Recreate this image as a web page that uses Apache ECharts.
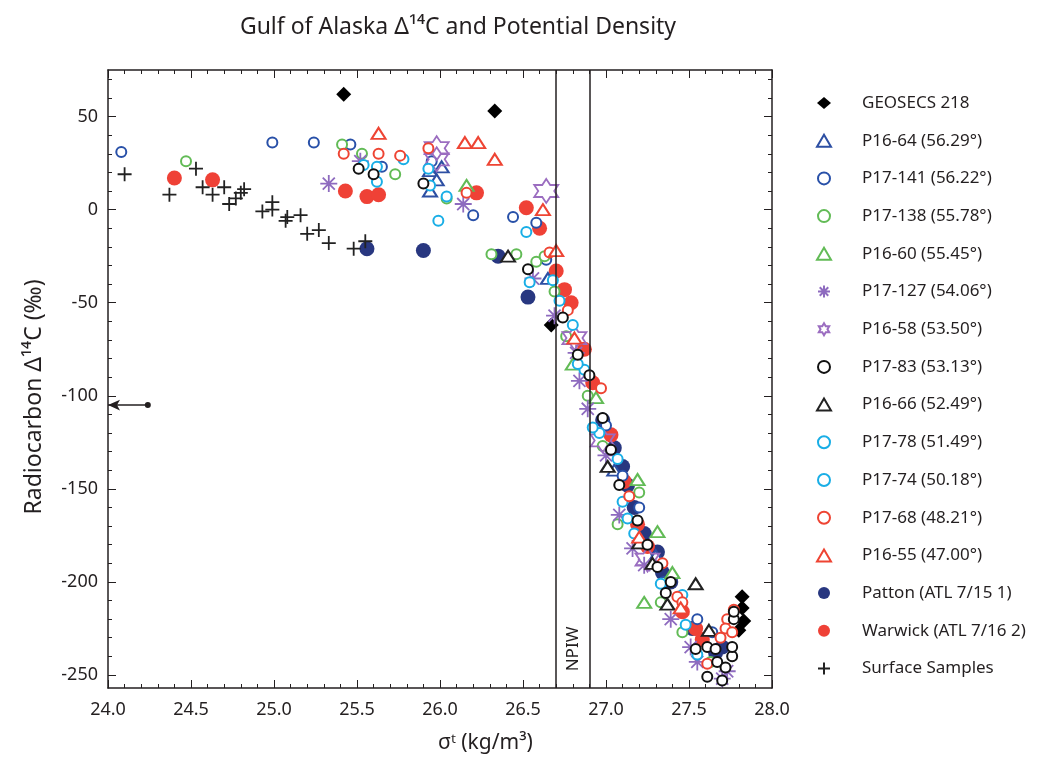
<!DOCTYPE html>
<html>
<head>
<meta charset="utf-8">
<title>Gulf of Alaska Δ14C and Potential Density</title>
<script src="https://cdn.jsdelivr.net/npm/echarts@6.0.0/dist/echarts.min.js"></script>
<style>
  html, body { margin: 0; padding: 0; background: #fff; }
  #chart { width: 1061px; height: 759px; }
</style>
</head>
<body>
<div id="chart"></div>
<script>
// data: [sigma-t, delta14C]
const geosecs = [[25.42,62],[26.33,53],[26.67,-62],[27.82,-208],[27.82,-214],[27.83,-221],[27.80,-226]];
const p1664 = [[25.94,21],[25.98,16],[25.94,10],[26.01,23],[26.65,-37],[27.05,-140],[27.30,-186]];
const p17141 = [[24.08,31],[24.99,36],[25.24,36],[25.46,35],[25.65,23],[25.95,26],[26.20,-3],[26.44,-4],[26.58,-7],[26.64,-27],
  [27.00,-116],[27.10,-143],[27.20,-160],[27.35,-200],[27.55,-220],[27.64,-227]];
const p17138 = [[24.47,26],[25.41,35],[25.53,30],[25.73,19],[26.04,6],[26.31,-24],[26.46,-24],[26.58,-28],[26.63,-25],[26.69,-44],
  [26.76,-68],[26.89,-100],[26.98,-127],[27.07,-169],[27.20,-152],[27.33,-211],[27.46,-227],[27.63,-243]];
const p1660 = [[26.16,13],[26.80,-83],[26.94,-101],[27.19,-145],[27.31,-173],[27.40,-195],[27.23,-211]];
const p17127 = [[25.33,14],[25.52,26],[26.14,3],[26.56,-37],[26.69,-57],[26.82,-77],[26.84,-92],[26.89,-107],[27.00,-132],
  [27.08,-164],[27.16,-182],[27.23,-191],[27.39,-220],[27.51,-235],[27.55,-243],[27.70,-252],[27.73,-248]];
const p1658 = [[25.98,33],[25.98,27],[26.64,10],[26.81,-69],[26.98,-124],[27.25,-188]];
const p1783 = [[25.51,22],[25.60,19],[25.90,14],[26.53,-32],[26.74,-58],[26.83,-78],[26.90,-89],[26.98,-112],[27.03,-129],
  [27.08,-148],[27.19,-167],[27.25,-180],[27.31,-192],[27.39,-200],[27.36,-206],[27.54,-236],[27.61,-235],[27.66,-236],
  [27.67,-243],[27.72,-246],[27.61,-251],[27.70,-253],[27.76,-240],[27.76,-235],[27.77,-220],[27.77,-216]];
const p1666 = [[26.41,-25],[27.01,-138],[27.20,-179],[27.28,-190],[27.37,-212],[27.54,-201],[27.62,-226]];
const p1778 = [[25.54,24],[25.62,15],[25.93,22],[26.04,7],[26.52,-12],[26.68,-38],[26.80,-62],[26.87,-86],[26.96,-120],
  [27.10,-157],[27.17,-174],[27.46,-207],[27.55,-239]];
const p1774 = [[25.62,23],[25.78,27],[25.94,13],[25.99,-6],[26.54,-39],[26.72,-49],[26.83,-83],[26.92,-117],[27.07,-134],
  [27.13,-166],[27.33,-201],[27.48,-223]];
const p1768 = [[25.42,30],[25.63,30],[25.76,29],[25.93,33],[26.16,9],[26.66,-23],[26.77,-54],[26.97,-96],[27.14,-154],
  [27.34,-190],[27.43,-208],[27.46,-211],[27.73,-220],[27.72,-225],[27.69,-230],[27.76,-227],[27.61,-244],[27.77,-215]];
const p1655 = [[25.63,41],[26.15,36],[26.23,36],[26.33,27],[26.62,0],[26.70,-22],[26.81,-69],[27.20,-176],[27.45,-214]];
const patton = [[25.56,-21],[25.90,-22],[26.35,-25],[26.53,-47],[26.98,-113],[27.05,-128],[27.10,-138],[27.13,-148],
  [27.17,-160],[27.23,-174],[27.31,-184],[27.34,-195],[27.39,-200],[27.52,-225],[27.70,-235],[27.66,-238]];
const warwick = [[24.40,17],[24.63,16],[25.43,10],[25.56,7],[25.63,8],[26.22,9],[26.52,1],[26.60,-10],[26.70,-33],
  [26.75,-43],[26.79,-50],[26.87,-75],[26.92,-93],[27.03,-121],[27.11,-146],[27.19,-169],[27.25,-181],[27.46,-216],
  [27.54,-225],[27.58,-231]];
const surface = [[24.10,19],[24.37,8],[24.53,22],[24.57,12],[24.63,8],[24.70,12],[24.73,3],[24.77,6],[24.80,9],[24.82,11],
  [24.93,-1],[24.99,4],[24.99,0],[25.07,-6],[25.08,-4],[25.16,-3],[25.20,-13],[25.27,-11],[25.33,-18],[25.48,-21],[25.55,-17]];
const offscale = [[24.24,-105]];
const npiw = [26.7, 26.9];

const legendNames = ['GEOSECS 218','P16-64 (56.29°)','P17-141 (56.22°)','P17-138 (55.78°)','P16-60 (55.45°)',
  'P17-127 (54.06°)','P16-58 (53.50°)','P17-83 (53.13°)','P16-66 (52.49°)','P17-78 (51.49°)','P17-74 (50.18°)',
  'P17-68 (48.21°)','P16-55 (47.00°)','Patton (ATL 7/15 1)','Warwick (ATL 7/16 2)','Surface Samples'];

const yMajor = [-250, -200, -150, -100, -50, 0, 50];
const yMinor = [];
for (let v = -250; v <= 70; v += 10) yMinor.push(v);

const FONT = '"Noto Sans", "DejaVu Sans", sans-serif';
const INK = '#231f20';

const ASTERISK = 'path://M10,0L10,20M0,10L20,10M2.9,2.9L17.1,17.1M2.9,17.1L17.1,2.9';
const HEXAGRAM = 'path://M10,0L12.89,5L18.66,5L15.77,10L18.66,15L12.89,15L10,20L7.11,15L1.34,15L4.23,10L1.34,5L7.11,5Z';
const PLUS = 'path://M6,0L6,12M0,6L12,6';

function filled(name, data, symbol, size, color) {
  return { name: name, type: 'scatter', data: data, symbol: symbol, symbolSize: size,
    itemStyle: { color: color, opacity: 1 }, emphasis: { disabled: true } };
}
function hollow(name, data, symbol, size, color, lw) {
  return { name: name, type: 'scatter', data: data, symbol: symbol, symbolSize: size,
    itemStyle: { color: color, borderColor: color, borderWidth: lw || 1.8, opacity: 1 }, emphasis: { disabled: true } };
}
function stroked(name, data, symbol, size, color, lw) {
  return { name: name, type: 'scatter', data: data, symbol: symbol, symbolSize: size,
    itemStyle: { color: 'rgba(0,0,0,0)', borderColor: color, borderWidth: lw || 1.6, opacity: 1 }, emphasis: { disabled: true } };
}

const chart = echarts.init(document.getElementById('chart'));

const yCommon = { type: 'value', min: -257, max: 75, splitLine: { show: false } };
const xCommon = { type: 'value', min: 24, max: 28, interval: 0.5, splitLine: { show: false } };
const frame = { onZero: false, lineStyle: { color: INK, width: 1.5 } };

chart.setOption({
  animation: false,
  backgroundColor: '#fff',
  title: {
    text: 'Gulf of Alaska Δ¹⁴C and Potential Density',
    left: 453, top: 11, textAlign: 'center',
    textStyle: { fontFamily: FONT, fontSize: 23, fontWeight: 'normal', color: INK }
  },
  grid: { left: 108, right: 289, top: 70, bottom: 71, outerBoundsMode: 'none' },
  legend: {
    orient: 'vertical', left: 811, top: 89,
    itemWidth: 14, itemHeight: 12, itemGap: 19.7,
    selectedMode: false,
    data: legendNames,
    formatter: name => '{g| }' + name,
    textStyle: { fontFamily: FONT, fontSize: 17, color: INK, lineHeight: 18,
      rich: { g: { width: 26, lineHeight: 18 } } }
  },
  xAxis: [
    Object.assign({}, xCommon, {
      position: 'bottom',
      axisLine: frame,
      axisTick: { inside: true, length: 8, lineStyle: { color: INK } },
      minorTick: { show: true, splitNumber: 5, length: 4, lineStyle: { color: INK } },
      axisLabel: { fontFamily: FONT, fontSize: 18, color: INK, margin: 13, formatter: v => v.toFixed(1) }
    }),
    Object.assign({}, xCommon, {
      position: 'top',
      axisLine: frame,
      axisTick: { inside: true, length: 8, lineStyle: { color: INK } },
      minorTick: { show: true, splitNumber: 5, length: 4, lineStyle: { color: INK } },
      axisLabel: { show: false }
    })
  ],
  yAxis: [
    Object.assign({}, yCommon, {
      position: 'left',
      name: 'Radiocarbon Δ¹⁴C (‰)', nameLocation: 'middle', nameRotate: 90, nameGap: 62,
      nameTextStyle: { fontFamily: FONT, fontSize: 23, color: INK, padding: [0, 36, 0, 0] },
      axisLine: Object.assign({ show: true }, frame),
      axisTick: { inside: true, length: 8, customValues: yMajor, lineStyle: { color: INK } },
      axisLabel: { fontFamily: FONT, fontSize: 18, color: INK, margin: 10, customValues: yMajor }
    }),
    Object.assign({}, yCommon, {
      position: 'left',
      axisLine: { show: false, onZero: false },
      axisTick: { inside: true, length: 4, customValues: yMinor, lineStyle: { color: INK } },
      axisLabel: { show: false }
    }),
    Object.assign({}, yCommon, {
      position: 'right',
      axisLine: Object.assign({ show: true }, frame),
      axisTick: { inside: true, length: 8, customValues: yMajor, lineStyle: { color: INK } },
      axisLabel: { show: false }
    }),
    Object.assign({}, yCommon, {
      position: 'right',
      axisLine: { show: false, onZero: false },
      axisTick: { inside: true, length: 4, customValues: yMinor, lineStyle: { color: INK } },
      axisLabel: { show: false }
    })
  ],
  graphic: [{
    type: 'text', left: 438, top: 733,
    style: { text: 'σᵗ (kg/m³)', font: '21px ' + FONT, fill: INK }
  }],
  series: [
    filled('Patton (ATL 7/15 1)', patton, 'circle', 15, '#283780'),
    filled('Warwick (ATL 7/16 2)', warwick, 'circle', 15, '#ef4136'),
    filled('GEOSECS 218', geosecs, 'diamond', 15, '#000000'),
    hollow('P16-64 (56.29°)', p1664, 'emptyTriangle', [14, 11], '#2d4fa3'),
    hollow('P17-141 (56.22°)', p17141, 'emptyCircle', 10, '#2850a8'),
    hollow('P17-138 (55.78°)', p17138, 'emptyCircle', 10, '#62bb56'),
    hollow('P16-60 (55.45°)', p1660, 'emptyTriangle', [14, 11], '#62bb56'),
    stroked('P17-127 (54.06°)', p17127, ASTERISK, 17, '#8e6bbf', 1.8),
    stroked('P16-58 (53.50°)', p1658, HEXAGRAM, 24, '#9b6dc0', 1.8),
    hollow('P16-66 (52.49°)', p1666, 'emptyTriangle', [14, 11], '#222222'),
    hollow('P17-78 (51.49°)', p1778, 'emptyCircle', 10, '#19aee6'),
    hollow('P17-74 (50.18°)', p1774, 'emptyCircle', 10, '#19aee6'),
    hollow('P17-68 (48.21°)', p1768, 'emptyCircle', 10, '#ee4433'),
    hollow('P16-55 (47.00°)', p1655, 'emptyTriangle', [14, 11], '#ee4433'),
    hollow('P17-83 (53.13°)', p1783, 'emptyCircle', 10, '#111111', 2),
    stroked('Surface Samples', surface, PLUS, 14, '#222222', 1.8),
    {
      name: 'off-scale', type: 'scatter', data: offscale, symbol: 'circle', symbolSize: 6,
      itemStyle: { color: INK, opacity: 1 }, emphasis: { disabled: true },
      markLine: {
        silent: true, animation: false,
        symbol: 'none',
        label: { show: false },
        lineStyle: { color: INK, width: 1.5, type: 'solid' },
        data: [
          [{ coord: offscale[0], symbol: 'none' }, { coord: [24, offscale[0][1]], symbol: 'arrow', symbolSize: [8, 12] }],
          { xAxis: npiw[0] },
          { xAxis: npiw[1] }
        ]
      },
      markPoint: {
        silent: true, animation: false,
        symbol: 'circle', symbolSize: 0,
        data: [{ coord: [26.8, -236], value: 'NPIW' }],
        label: { show: true, position: 'inside', rotate: 90, formatter: 'NPIW',
          fontFamily: FONT, fontSize: 17, color: INK }
      }
    }
  ]
});
</script>
</body>
</html>
